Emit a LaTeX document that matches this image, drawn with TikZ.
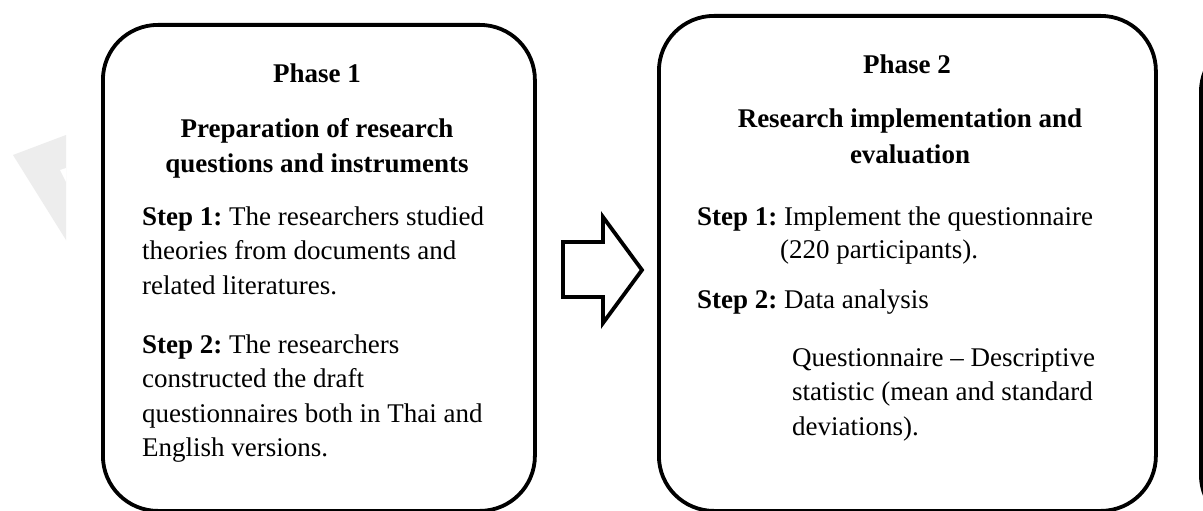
\documentclass[tikz,border=0pt]{standalone}
\usepackage{fontspec}
\setmainfont{Liberation Serif}
\frenchspacing
\begin{document}
\begin{tikzpicture}[x=1pt,y=-1pt,
  phasebox/.style={draw=black, line width=3.8pt, rounded corners=55pt, inner sep=0pt, anchor=north west},
  txt/.style={font=\fontsize{27}{34.5}\selectfont, inner sep=0pt, anchor=base west},
  head/.style={font=\bfseries\fontsize{27}{35}\selectfont, inner sep=0pt, anchor=base},
  blockarrow/.style={draw=black, line width=3.8pt, line join=miter, fill=white}
]
\useasboundingbox (0,0) rectangle (1203,511);
\clip (0,0) rectangle (1203,511);
\fill[white] (0,0) rectangle (1203,511);
% faint watermark
\fill[black!7] (13,155) -- (66,135) -- (66,240) -- cycle;
\fill[white] (60,170) -- (66,168) -- (66,182) -- cycle;
% boxes
\node[phasebox, minimum width=432pt, minimum height=486pt] (p1) at (101,23) {};
\node[phasebox, minimum width=497pt, minimum height=495pt] (p2) at (657,14) {};
\node[phasebox, minimum width=200pt, minimum height=493pt] (p3) at (1199,35) {};
% block arrow between the phases
\draw[blockarrow] (563,242) -- (603,242) -- (603,217) -- (642,270) -- (603,323) -- (603,297) -- (563,297) -- cycle;
% Phase 1 text
\node[head] (p1t) at (317,83) {Phase 1};
\foreach \t [count=\i from 0] in {Preparation of research, questions and instruments}
  \node[head, name=p1h\i] at (317,137+35*\i) {\t};
\foreach \t [count=\i from 0] in {{\textbf{Step 1:} The researchers studied}, theories from documents and, related literatures.}
  \node[txt, name=p1a\i] at (142,225+34.5*\i) {\t};
\foreach \t [count=\i from 0] in {{\textbf{Step 2:} The researchers}, constructed the draft, questionnaires both in Thai and, English versions.}
  \node[txt, name=p1b\i] at (142,353+34.5*\i) {\t};
% Phase 2 text
\node[head] (p2t) at (907,74) {Phase 2};
\foreach \t [count=\i from 0] in {Research implementation and, evaluation}
  \node[head, name=p2h\i] at (910,128+35*\i) {\t};
\node[txt] (p2s1) at (697,225) {\textbf{Step 1:} Implement the questionnaire};
\node[txt] (p2s1b) at (780,258) {(220 participants).};
\node[txt] (p2s2) at (697,308) {\textbf{Step 2:} Data analysis};
\foreach \t [count=\i from 0] in {Questionnaire -- Descriptive, statistic (mean and standard, deviations).}
  \node[txt, name=p2q\i] at (792,366+34.5*\i) {\t};
\end{tikzpicture}
\end{document}
